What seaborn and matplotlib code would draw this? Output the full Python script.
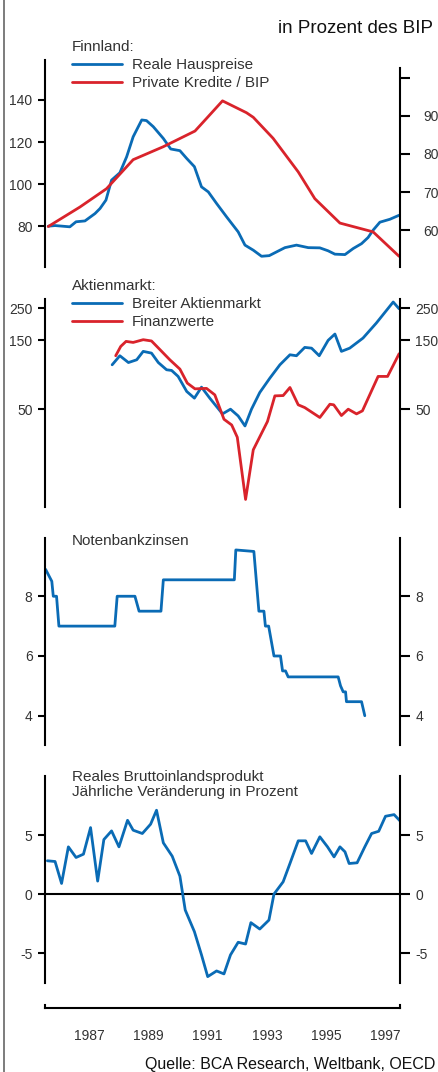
import matplotlib
matplotlib.use('Agg')
import matplotlib.pyplot as plt
import seaborn as sns
from matplotlib.lines import Line2D
from matplotlib.ticker import FixedLocator, NullLocator

# ---- data ----
house_year = [1986.11, 1986.34, 1986.84, 1987.05, 1987.35, 1987.69, 1987.86, 1988.06, 1988.25,
              1988.53, 1988.76, 1988.98, 1989.27, 1989.43, 1989.66, 1990.00, 1990.25, 1990.56,
              1990.79, 1991.05, 1991.29, 1991.52, 1991.80, 1992.14, 1992.53, 1992.76, 1993.04,
              1993.32, 1993.58, 1993.83, 1994.11, 1994.50, 1994.90, 1995.29, 1995.57, 1995.80,
              1996.14, 1996.42, 1996.70, 1996.92, 1997.09, 1997.32, 1997.66, 1997.97]
house_price = [80.0, 80.3, 79.7, 82.1, 82.5, 86.0, 88.4, 92.4, 101.9, 105.4, 113.0, 122.5, 130.5,
               130.2, 127.3, 121.7, 116.7, 115.9, 112.2, 108.3, 98.7, 96.3, 90.8, 84.4, 77.3,
               71.0, 68.6, 65.7, 66.0, 67.8, 69.8, 71.0, 69.8, 69.7, 68.3, 66.7, 66.5, 69.4,
               71.7, 74.6, 78.1, 81.9, 83.3, 85.2]

credit_year = [1986.11, 1987.18, 1988.08, 1988.98, 1990.00, 1991.07, 1991.46, 1992.00, 1992.81,
               1993.04, 1993.71, 1994.56, 1995.12, 1995.97, 1997.09, 1997.97]
credit_gdp = [61.0, 66.1, 70.9, 78.5, 81.9, 86.0, 89.3, 93.9, 90.8, 89.6, 84.1, 75.3, 68.3,
              61.9, 59.6, 53.2]

market_year = [1988.27, 1988.53, 1988.82, 1989.10, 1989.32, 1989.60, 1989.83, 1990.11, 1990.28,
               1990.50, 1990.79, 1991.05, 1991.29, 1991.57, 1992.00, 1992.27, 1992.53, 1992.76,
               1992.98, 1993.26, 1993.60, 1993.94, 1994.28, 1994.50, 1994.78, 1995.01, 1995.27,
               1995.57, 1995.80, 1996.02, 1996.30, 1996.75, 1997.20, 1997.77, 1997.97]
market_index = [101.3, 117.0, 105.0, 109.7, 125.4, 122.0, 105.0, 93.6, 92.6, 84.2, 66.3, 59.6,
                71.0, 59.6, 46.4, 50.0, 44.9, 38.3, 50.0, 65.2, 81.9, 101.3, 118.8, 117.0,
                133.6, 132.0, 117.0, 149.4, 165.2, 125.4, 132.0, 155.0, 196.8, 275.0, 247.0]

fin_year = [1988.39, 1988.56, 1988.74, 1988.98, 1989.32, 1989.60, 1989.89, 1990.22, 1990.56,
            1990.81, 1991.07, 1991.46, 1991.74, 1992.05, 1992.31, 1992.50, 1992.78, 1993.04,
            1993.52, 1993.77, 1994.05, 1994.28, 1994.56, 1994.78, 1995.29, 1995.63, 1995.76,
            1996.02, 1996.25, 1996.53, 1996.73, 1997.26, 1997.58, 1997.97]
fin_index = [117.0, 135.7, 147.0, 144.6, 151.0, 148.0, 128.7, 109.7, 94.6, 75.7, 69.1, 69.6,
             62.8, 42.6, 38.9, 32.0, 11.9, 26.2, 41.1, 61.8, 62.1, 70.6, 53.6, 51.3, 43.8,
             54.1, 53.6, 45.2, 50.0, 46.4, 48.7, 84.2, 84.2, 120.8]

rate_year = [1986.02, 1986.23, 1986.28, 1986.39, 1986.47, 1988.36, 1988.44, 1989.04, 1989.18,
             1989.92, 1990.00, 1992.40, 1992.45, 1993.06, 1993.23, 1993.40, 1993.45, 1993.56,
             1993.74, 1993.96, 1994.03, 1994.13, 1994.22, 1995.91, 1995.99, 1996.08, 1996.16,
             1996.19, 1996.70, 1996.81]
rate = [8.9, 8.5, 8.0, 8.0, 7.0, 7.0, 8.0, 8.0, 7.5, 7.5, 8.55, 8.55, 9.55, 9.5, 7.5, 7.5,
        7.0, 7.0, 6.0, 6.0, 5.5, 5.5, 5.3, 5.3, 5.0, 4.8, 4.8, 4.47, 4.47, 4.0]

gdp_year = [1986.08, 1986.34, 1986.56, 1986.79, 1987.05, 1987.30, 1987.54, 1987.78, 1987.99,
            1988.25, 1988.50, 1988.79, 1988.98, 1989.29, 1989.57, 1989.77, 1990.00, 1990.30,
            1990.56, 1990.74, 1991.05, 1991.29, 1991.50, 1991.80, 1992.05, 1992.27, 1992.53,
            1992.78, 1992.96, 1993.26, 1993.57, 1993.74, 1994.05, 1994.28, 1994.56, 1994.81,
            1995.01, 1995.29, 1995.55, 1995.77, 1995.97, 1996.14, 1996.28, 1996.55, 1996.81,
            1997.04, 1997.28, 1997.51, 1997.80, 1998.00]
gdp_growth = [2.82, 2.76, 0.90, 4.0, 3.1, 3.38, 5.63, 1.10, 4.62, 5.35, 4.0, 6.25, 5.41, 5.13,
              5.92, 7.1, 4.34, 3.21, 1.52, -1.35, -3.18, -5.15, -6.99, -6.51, -6.76, -5.15,
              -4.08, -4.23, -2.42, -2.96, -2.2, 0.0, 1.04, 2.59, 4.51, 4.51, 3.44, 4.85, 4.0,
              3.15, 4.0, 3.58, 2.59, 2.65, 4.0, 5.13, 5.32, 6.59, 6.73, 6.2]

year_ticks = list(range(1986, 1999))
year_labels = ['1987', '1989', '1991', '1993', '1995', '1997']

BLUE = '#0a6bb5'
RED = '#d9232b'
TXT = '#333333'

sns.set_style('white')
plt.rcParams['font.family'] = ['Liberation Sans', 'DejaVu Sans']

W, H = 438, 1072
fig = plt.figure(figsize=(W / 100, H / 100), dpi=100)

X0, X1 = 45, 400


def make_ax(top, bottom):
    return fig.add_axes([X0 / W, 1 - bottom / H, (X1 - X0) / W, (bottom - top) / H])


def style_axis(ax, side):
    for s in ['top', 'bottom']:
        ax.spines[s].set_visible(False)
    for s in ['left', 'right']:
        ax.spines[s].set_visible(s == side)
        ax.spines[s].set_linewidth(1.5)
        ax.spines[s].set_color('black')
    ax.set_xlim(1986, 1998)
    ax.xaxis.set_major_locator(NullLocator())
    ax.set_xlabel('')
    ax.set_ylabel('')
    ax.patch.set_alpha(0)
    if side == 'left':
        ax.tick_params(axis='y', left=True, right=False, labelleft=True, labelright=False,
                       direction='out', length=5, width=1.5, pad=4, color='black',
                       labelcolor=TXT, labelsize=10)
    else:
        ax.tick_params(axis='y', left=False, right=True, labelleft=False, labelright=True,
                       direction='out', length=7, width=1.5, pad=4, color='black',
                       labelcolor=TXT, labelsize=10)


def add_legend(ax, handles, labels, title, y):
    leg = ax.legend(handles=handles, labels=labels, title=title, loc='upper left',
                    bbox_to_anchor=(27 / 355, y), frameon=False, alignment='left',
                    fontsize=11, title_fontsize=11, handlelength=3.3, handletextpad=0.6,
                    labelspacing=0.26, borderpad=0, borderaxespad=0, labelcolor=TXT)
    leg.get_title().set_color(TXT)
    return leg


# ---- panel 1: Finnland ----
ax1 = make_ax(60, 267)
sns.lineplot(x=house_year, y=house_price, ax=ax1, color=BLUE, linewidth=2, estimator=None)
ax1.set_ylim(60.6, 159.0)
ax1.set_yticks([80, 100, 120, 140])
style_axis(ax1, 'left')

ax1r = ax1.twinx()
sns.lineplot(x=credit_year, y=credit_gdp, ax=ax1r, color=RED, linewidth=2, estimator=None)
ax1r.set_ylim(50.4, 104.6)
ax1r.set_yticks([60, 70, 80, 90, 100])
ax1r.set_yticklabels(['60', '70', '80', '90', ''])
style_axis(ax1r, 'right')
ax1r.spines['right'].set_bounds(50.4, 102.4)
ax1r.tick_params(axis='y', pad=10)
add_legend(ax1r, [ax1.get_lines()[0], ax1r.get_lines()[0]],
           ['Reale Hauspreise', 'Private Kredite / BIP'], 'Finnland:', 1.096)

# ---- panel 2: Aktienmarkt (log) ----
ax2 = make_ax(299, 507)
sns.lineplot(x=market_year, y=market_index, ax=ax2, color=BLUE, linewidth=2, estimator=None)
sns.lineplot(x=fin_year, y=fin_index, ax=ax2, color=RED, linewidth=2, estimator=None)
ax2.set_yscale('log')
ax2.set_ylim(10.55, 288.5)
ax2.yaxis.set_major_locator(FixedLocator([50, 150, 250]))
ax2.yaxis.set_minor_locator(NullLocator())
ax2.set_yticklabels(['50', '150', '250'])
style_axis(ax2, 'left')
ax2r = ax2.twinx()
ax2r.set_yscale('log')
ax2r.set_ylim(ax2.get_ylim())
ax2r.yaxis.set_major_locator(FixedLocator([50, 150, 250]))
ax2r.yaxis.set_minor_locator(NullLocator())
ax2r.set_yticklabels(['50', '150', '250'])
style_axis(ax2r, 'right')
add_legend(ax2r, ax2.get_lines()[:2], ['Breiter Aktienmarkt', 'Finanzwerte'],
           'Aktienmarkt:', 1.096)

# ---- panel 3: Notenbankzinsen ----
ax3 = make_ax(538, 745)
sns.lineplot(x=rate_year, y=rate, ax=ax3, color=BLUE, linewidth=2, estimator=None)
ax3.set_ylim(3.02, 9.95)
ax3.set_yticks([4, 6, 8])
style_axis(ax3, 'left')
ax3r = ax3.twinx()
ax3r.set_ylim(ax3.get_ylim())
ax3r.set_yticks([4, 6, 8])
style_axis(ax3r, 'right')
ax3.text(27 / 355, 0.966, 'Notenbankzinsen', transform=ax3.transAxes, fontsize=11,
         color=TXT, va='baseline', ha='left')

# ---- panel 4: BIP ----
ax4 = make_ax(776, 983)
sns.lineplot(x=gdp_year, y=gdp_growth, ax=ax4, color=BLUE, linewidth=2, estimator=None)
ax4.axhline(0, color='black', linewidth=1.5, zorder=1)
ax4.set_ylim(-7.53, 10.0)
ax4.set_yticks([-5, 0, 5])
ax4.set_yticklabels(['-5', '0', '5'])
style_axis(ax4, 'left')
ax4r = ax4.twinx()
ax4r.set_ylim(ax4.get_ylim())
ax4r.set_yticks([-5, 0, 5])
ax4r.set_yticklabels(['-5', '0', '5'])
style_axis(ax4r, 'right')
ax4.text(27 / 355, 0.977, 'Reales Bruttoinlandsprodukt', transform=ax4.transAxes,
         fontsize=11, color=TXT, va='baseline', ha='left')
ax4.text(27 / 355, 0.9035, 'Jährliche Veränderung in Prozent', transform=ax4.transAxes,
         fontsize=11, color=TXT, va='baseline', ha='left')

# ---- shared time axis at the bottom ----
axx = make_ax(1005, 1008)
axx.set_xlim(1986, 1998)
axx.set_ylim(0, 1)
axx.set_yticks([])
for s in ['left', 'right', 'bottom']:
    axx.spines[s].set_linewidth(1.5)
    axx.spines[s].set_color('black')
axx.spines['top'].set_visible(False)
axx.set_xticks(year_ticks)
axx.set_xticklabels([])
axx.set_xticks([int(y) + 0.5 for y in year_labels], minor=True)
axx.set_xticklabels(year_labels, minor=True)
axx.tick_params(axis='x', which='major', direction='out', length=9, width=1.5, color='black')
axx.tick_params(axis='x', which='minor', length=0, pad=15, labelsize=10, labelcolor=TXT)
axx.patch.set_alpha(0)

# ---- texts and frame ----
fig.text(432.5 / W, 1 - 33 / H, 'in Prozent des BIP', ha='right', va='baseline',
         fontsize=13.5, color='#111111')
fig.text(435 / W, 1 - 1069 / H, 'Quelle: BCA Research, Weltbank, OECD', ha='right',
         va='baseline', fontsize=11.5, color='#111111')
fig.add_artist(Line2D([3.5 / W, 3.5 / W], [0, 1], transform=fig.transFigure,
                      color='#666666', linewidth=1.2))

fig.savefig('out.png', dpi=100)
